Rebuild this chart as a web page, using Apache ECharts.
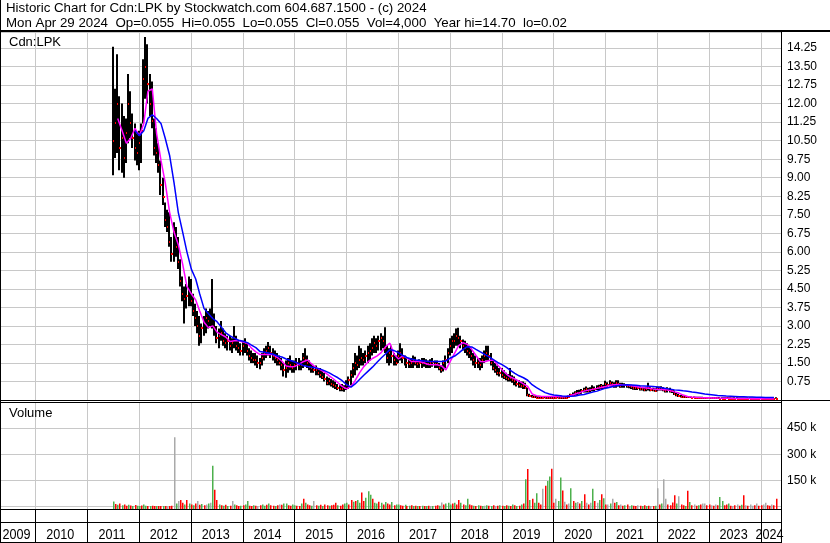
<!DOCTYPE html>
<html>
<head>
<meta charset="utf-8">
<script src="https://cdn.jsdelivr.net/npm/echarts/dist/echarts.min.js"></script>
<style>
html,body{margin:0;padding:0;background:#fff;overflow:hidden}
#chart{width:830px;height:543px}
</style>
</head>
<body>
<div id="chart"></div>
<script>
// ---------------- data ----------------
const titleLine1 = 'Historic Chart for Cdn:LPK by Stockwatch.com 604.687.1500 - (c) 2024';
const titleLine2 = 'Mon Apr 29 2024  Op=0.055  Hi=0.055  Lo=0.055  Cl=0.055  Vol=4,000  Year hi=14.70  lo=0.02';
const symbolLabel = 'Cdn:LPK';
const volumeLabel = 'Volume';
const years = ['2009','2010','2011','2012','2013','2014','2015','2016','2017','2018','2019','2020','2021','2022','2023','2024'];
const axisStart = [2009, 4, 23];
const axisEnd = [2024, 5, 21];
const firstBarMonth = [2011, 7];     // half-month bars: 1st and 16th of each month
const firstShortMAMonth = [2011, 8];
const firstLongMAMonth = [2011, 12];
const priceMin = 0, priceMax = 14.9, priceStep = 0.75;
const volMin = 0, volMax = 600, volStep = 150;   // thousands

// [low, high, close]
const priceBars = [
// 2011 Jul-Dec
[9.1,14.3,10.5],[9.8,12.6,11.2],[10.0,14.0,12.0],[9.3,12.3,10.2],[9.2,12.0,10.6],[9.0,11.5,9.8],
[9.6,11.4,10.8],[10.4,13.2,12.0],[10.6,12.5,11.2],[10.2,11.6,10.6],[9.7,11.2,10.2],[9.5,10.8,10.0],
// 2012
[9.3,10.9,10.4],[9.6,11.2,10.9],[11.2,13.8,13.0],[12.2,14.7,13.5],[12.0,14.4,12.8],[11.5,13.2,12.0],
[11.0,12.9,11.3],[9.9,11.4,10.2],[9.6,11.0,10.0],[9.2,10.4,9.5],[8.3,9.7,8.7],[7.9,9.0,8.2],
[7.0,8.0,7.3],[6.8,7.7,7.0],[6.2,7.6,6.4],[5.6,6.6,5.9],[5.6,7.2,6.8],[5.8,7.0,6.2],
[5.3,6.6,5.6],[4.6,5.7,4.8],[4.0,5.0,4.3],[3.1,4.6,4.1],[3.7,4.7,4.2],[3.8,5.0,4.4],
// 2013
[3.8,4.9,4.0],[3.4,4.3,3.6],[3.0,3.9,3.3],[2.7,3.6,3.0],[2.2,3.4,2.6],[2.3,3.1,2.9],
[2.6,3.4,3.1],[2.7,3.7,3.3],[2.9,3.6,3.2],[3.0,3.7,3.4],[2.9,4.9,3.3],[2.6,3.5,2.9],
[2.3,3.0,2.5],[2.1,2.9,2.6],[2.4,3.2,2.7],[2.2,2.9,2.4],[2.1,2.7,2.3],[2.0,2.6,2.4],
[2.0,2.6,2.2],[1.9,2.5,2.3],[2.1,3.0,2.5],[2.0,2.6,2.2],[1.9,2.4,2.1],[1.8,2.3,2.0],
// 2014
[1.8,2.4,2.2],[1.9,2.5,2.3],[1.8,2.3,2.0],[1.6,2.1,1.8],[1.5,2.0,1.7],[1.5,1.9,1.6],
[1.4,1.9,1.6],[1.3,1.8,1.5],[1.25,1.7,1.5],[1.4,1.9,1.7],[1.6,2.1,1.9],[1.7,2.2,2.0],
[1.8,2.35,2.1],[1.7,2.2,1.9],[1.6,2.1,1.8],[1.5,2.0,1.7],[1.4,1.9,1.6],[1.4,1.8,1.5],
[1.2,1.7,1.4],[0.95,1.5,1.2],[0.9,1.6,1.3],[1.1,1.7,1.5],[1.2,1.8,1.4],[1.1,1.6,1.3],
// 2015
[1.1,1.6,1.4],[1.2,1.7,1.5],[1.2,1.7,1.4],[1.2,1.6,1.4],[1.3,1.9,1.7],[1.4,2.1,1.6],
[1.3,1.8,1.5],[1.2,1.6,1.35],[1.1,1.5,1.3],[1.1,1.4,1.2],[1.0,1.4,1.2],[1.0,1.3,1.1],
[0.9,1.3,1.0],[0.85,1.2,0.95],[0.75,1.1,0.85],[0.6,0.95,0.7],[0.6,0.9,0.75],[0.55,0.85,0.65],
[0.5,0.8,0.6],[0.45,0.75,0.55],[0.4,0.65,0.5],[0.35,0.6,0.45],[0.35,0.65,0.45],[0.33,0.6,0.5],
// 2016
[0.4,0.8,0.6],[0.45,0.95,0.8],[0.6,1.2,1.0],[0.9,1.5,1.3],[1.0,1.9,1.5],[1.2,1.8,1.4],
[1.3,2.2,1.6],[1.4,2.1,1.7],[1.4,1.9,1.6],[1.5,2.0,1.8],[1.5,2.2,1.9],[1.6,2.3,2.0],
[1.8,2.5,2.1],[1.9,2.6,2.3],[1.9,2.5,2.2],[2.0,2.6,2.4],[2.0,2.7,2.5],[2.1,2.6,2.4],
[1.9,2.95,2.1],[1.5,2.2,1.7],[1.4,2.1,1.9],[1.5,2.2,1.8],[1.4,1.9,1.6],[1.4,1.8,1.5],
// 2017
[1.5,2.0,1.8],[1.6,2.3,1.9],[1.5,2.1,1.7],[1.4,1.8,1.55],[1.3,1.75,1.5],[1.3,1.7,1.45],
[1.3,1.7,1.5],[1.3,1.8,1.6],[1.4,1.75,1.5],[1.3,1.6,1.45],[1.3,1.65,1.5],[1.3,1.7,1.5],
[1.35,1.7,1.55],[1.3,1.65,1.45],[1.3,1.6,1.45],[1.3,1.65,1.5],[1.35,1.7,1.55],[1.3,1.6,1.45],
[1.3,1.6,1.45],[1.2,1.5,1.3],[1.1,1.4,1.2],[1.15,1.6,1.5],[1.3,1.8,1.6],[1.5,2.1,1.9],
// 2018
[1.8,2.5,2.2],[1.9,2.6,2.4],[2.1,2.7,2.4],[2.2,2.9,2.6],[2.2,2.93,2.5],[2.1,2.6,2.4],
[2.0,2.45,2.2],[1.9,2.4,2.1],[1.8,2.3,2.0],[1.7,2.2,1.9],[1.6,2.1,1.8],[1.4,1.9,1.6],
[1.3,1.8,1.5],[1.3,1.7,1.5],[1.2,1.7,1.4],[1.3,1.8,1.6],[1.5,2.0,1.8],[1.6,2.2,1.9],
[1.6,2.2,1.8],[1.4,1.9,1.5],[1.2,1.6,1.3],[1.1,1.5,1.2],[1.0,1.4,1.1],[0.95,1.3,1.1],
// 2019
[0.9,1.3,1.0],[0.85,1.2,0.95],[0.8,1.1,0.9],[0.75,1.05,0.85],[0.75,1.3,0.9],[0.7,1.0,0.8],
[0.6,0.95,0.75],[0.55,0.85,0.65],[0.5,0.8,0.6],[0.5,0.75,0.55],[0.45,0.75,0.55],[0.45,0.7,0.5],
[0.15,0.5,0.2],[0.12,0.25,0.15],[0.1,0.2,0.14],[0.09,0.18,0.12],[0.08,0.16,0.1],[0.08,0.15,0.1],
[0.07,0.14,0.09],[0.07,0.13,0.09],[0.07,0.13,0.09],[0.06,0.12,0.08],[0.06,0.12,0.08],[0.06,0.11,0.08],
// 2020
[0.06,0.12,0.09],[0.07,0.14,0.1],[0.07,0.14,0.09],[0.06,0.12,0.08],[0.05,0.1,0.07],[0.05,0.1,0.07],
[0.06,0.14,0.1],[0.08,0.18,0.14],[0.12,0.25,0.2],[0.15,0.3,0.22],[0.18,0.35,0.28],[0.2,0.4,0.3],
[0.22,0.42,0.3],[0.25,0.45,0.35],[0.3,0.5,0.4],[0.3,0.55,0.45],[0.3,0.5,0.38],[0.3,0.52,0.42],
[0.35,0.6,0.45],[0.35,0.55,0.45],[0.4,0.6,0.5],[0.4,0.62,0.52],[0.45,0.65,0.55],[0.45,0.62,0.52],
// 2021
[0.5,0.78,0.65],[0.5,0.72,0.6],[0.55,0.8,0.7],[0.55,0.75,0.65],[0.5,0.72,0.6],[0.5,0.8,0.7],
[0.55,0.8,0.65],[0.5,0.7,0.58],[0.5,0.7,0.6],[0.5,0.68,0.6],[0.5,0.65,0.58],[0.48,0.62,0.55],
[0.45,0.62,0.52],[0.42,0.6,0.5],[0.4,0.58,0.48],[0.4,0.55,0.47],[0.38,0.55,0.45],[0.38,0.52,0.44],
[0.35,0.5,0.42],[0.35,0.52,0.45],[0.38,0.7,0.48],[0.35,0.52,0.42],[0.35,0.5,0.4],[0.33,0.48,0.38],
// 2022
[0.35,0.55,0.45],[0.38,0.55,0.48],[0.38,0.56,0.45],[0.35,0.52,0.42],[0.3,0.48,0.38],[0.3,0.52,0.4],
[0.3,0.5,0.38],[0.28,0.45,0.35],[0.2,0.38,0.25],[0.15,0.3,0.2],[0.12,0.25,0.16],[0.1,0.2,0.14],
[0.1,0.18,0.12],[0.09,0.16,0.12],[0.09,0.15,0.11],[0.09,0.14,0.11],[0.08,0.13,0.1],[0.08,0.12,0.1],
[0.07,0.12,0.09],[0.07,0.11,0.09],[0.07,0.11,0.08],[0.07,0.1,0.08],[0.06,0.1,0.08],[0.06,0.1,0.08],
// 2023
[0.06,0.1,0.08],[0.06,0.09,0.07],[0.06,0.09,0.07],[0.05,0.09,0.07],[0.05,0.09,0.07],[0.05,0.08,0.06],
[0.05,0.08,0.06],[0.05,0.08,0.06],[0.05,0.08,0.065],[0.05,0.08,0.06],[0.05,0.08,0.06],[0.045,0.075,0.06],
[0.05,0.08,0.06],[0.05,0.075,0.06],[0.045,0.07,0.055],[0.045,0.07,0.055],[0.04,0.07,0.05],[0.045,0.07,0.055],
[0.04,0.065,0.05],[0.04,0.065,0.05],[0.04,0.065,0.05],[0.04,0.06,0.05],[0.04,0.06,0.05],[0.04,0.065,0.05],
// 2024 Jan-Apr
[0.04,0.065,0.055],[0.045,0.07,0.055],[0.045,0.07,0.055],[0.045,0.065,0.055],
[0.045,0.065,0.055],[0.045,0.065,0.055],[0.05,0.065,0.055],[0.05,0.06,0.055]
];

// [volume in thousands, direction g=up r=down n=unchanged]
const volumes = [
// 2011 Jul-Dec
[28,'g'],[14,'r'],[10,'g'],[17,'r'],[7,'g'],[12,'r'],[4,'r'],[10,'g'],[6,'r'],[3,'g'],[8,'r'],[4,'g'],
// 2012
[3,'g'],[6,'r'],[12,'g'],[4,'g'],[3,'r'],[3,'g'],[4,'r'],[3,'r'],[3,'g'],[3,'r'],[3,'r'],[3,'g'],
[3,'r'],[3,'n'],[3,'r'],[5,'r'],[397,'n'],[17,'g'],[32,'n'],[38,'r'],[22,'r'],[12,'g'],[37,'r'],[17,'g'],
// 2013
[12,'r'],[7,'g'],[17,'r'],[32,'n'],[10,'r'],[14,'g'],[7,'r'],[12,'n'],[17,'g'],[22,'n'],[234,'g'],[96,'r'],
[38,'r'],[12,'g'],[7,'r'],[4,'g'],[10,'r'],[3,'g'],[4,'r'],[32,'n'],[12,'g'],[7,'r'],[3,'r'],[4,'g'],
// 2014
[7,'r'],[12,'g'],[32,'g'],[4,'r'],[3,'r'],[7,'g'],[4,'r'],[3,'n'],[7,'r'],[12,'g'],[4,'g'],[10,'r'],
[17,'g'],[7,'r'],[4,'r'],[3,'g'],[7,'r'],[12,'n'],[10,'r'],[17,'g'],[17,'g'],[7,'r'],[4,'r'],[12,'g'],
// 2015
[7,'g'],[4,'r'],[3,'r'],[17,'g'],[44,'r'],[22,'g'],[12,'r'],[7,'r'],[4,'g'],[32,'n'],[7,'r'],[4,'g'],
[10,'r'],[3,'g'],[12,'r'],[7,'r'],[4,'g'],[7,'r'],[10,'r'],[21,'r'],[7,'g'],[4,'r'],[12,'r'],[17,'g'],
// 2016
[22,'g'],[12,'r'],[38,'r'],[27,'g'],[32,'r'],[37,'g'],[22,'g'],[80,'r'],[32,'r'],[50,'g'],[88,'g'],[67,'g'],
[44,'r'],[22,'g'],[17,'g'],[27,'r'],[22,'g'],[12,'r'],[26,'g'],[17,'r'],[12,'r'],[26,'g'],[7,'r'],[12,'g'],
// 2017
[12,'g'],[7,'r'],[4,'r'],[10,'g'],[3,'r'],[4,'g'],[7,'r'],[3,'g'],[4,'r'],[3,'g'],[3,'r'],[4,'g'],
[3,'r'],[3,'g'],[4,'r'],[3,'n'],[3,'g'],[4,'r'],[7,'r'],[4,'g'],[23,'n'],[12,'r'],[17,'g'],[22,'g'],
// 2018
[12,'g'],[17,'r'],[22,'g'],[12,'r'],[38,'r'],[22,'g'],[12,'r'],[7,'g'],[44,'g'],[12,'r'],[7,'r'],[4,'g'],
[3,'r'],[7,'g'],[4,'r'],[3,'g'],[5,'n'],[7,'g'],[4,'r'],[3,'g'],[7,'r'],[3,'n'],[4,'r'],[7,'g'],
// 2019
[4,'r'],[3,'g'],[7,'r'],[4,'g'],[3,'r'],[12,'g'],[7,'r'],[3,'g'],[4,'r'],[12,'g'],[17,'r'],[157,'g'],
[215,'r'],[38,'g'],[44,'r'],[22,'g'],[76,'g'],[22,'r'],[12,'r'],[102,'n'],[119,'r'],[147,'g'],[172,'g'],[217,'r'],
// 2020
[22,'r'],[44,'n'],[32,'g'],[167,'g'],[92,'r'],[27,'n'],[12,'r'],[17,'n'],[105,'g'],[32,'r'],[22,'g'],[26,'n'],
[17,'r'],[32,'g'],[70,'r'],[22,'n'],[12,'r'],[22,'n'],[102,'g'],[32,'r'],[22,'n'],[37,'g'],[70,'r'],[47,'g'],
// 2021
[12,'r'],[12,'n'],[17,'g'],[44,'n'],[22,'r'],[26,'g'],[7,'r'],[12,'n'],[4,'r'],[7,'g'],[12,'r'],[3,'n'],
[7,'g'],[4,'r'],[3,'r'],[7,'n'],[4,'r'],[3,'g'],[7,'r'],[3,'g'],[4,'r'],[3,'n'],[3,'r'],[4,'g'],
// 2022
[105,'n'],[12,'r'],[17,'g'],[157,'n'],[44,'n'],[12,'r'],[7,'r'],[23,'r'],[64,'r'],[17,'g'],[59,'n'],[12,'r'],
[7,'r'],[3,'g'],[90,'r'],[26,'g'],[7,'r'],[12,'n'],[4,'r'],[7,'g'],[12,'r'],[17,'n'],[17,'n'],[7,'r'],
// 2023
[12,'r'],[7,'n'],[4,'r'],[12,'n'],[7,'r'],[55,'g'],[32,'g'],[7,'r'],[12,'r'],[17,'g'],[4,'r'],[3,'n'],
[7,'r'],[12,'n'],[4,'r'],[10,'g'],[64,'r'],[7,'n'],[4,'r'],[12,'n'],[5,'n'],[7,'r'],[17,'n'],[4,'r'],
// 2024 Jan-Apr
[7,'r'],[12,'n'],[22,'n'],[7,'r'],[4,'r'],[12,'n'],[7,'r'],[44,'r']
];

// monthly values of the short (magenta) moving average, from 2011-08
const maShort = [
11.4,10.9,10.4,10.6,11.0,
10.7,11.2,12.5,12.6,10.8,9.7,8.8,7.6,6.8,6.3,5.5,4.6,
4.3,4.05,3.6,3.15,2.93,3.0,2.75,2.65,2.55,2.37,2.4,2.4,
2.35,2.3,2.1,1.95,1.84,1.84,1.85,1.84,1.72,1.58,1.38,1.35,
1.36,1.45,1.55,1.62,1.45,1.3,1.22,1.12,0.98,0.85,0.7,0.55,
0.45,0.55,0.78,1.1,1.35,1.55,1.68,1.78,1.92,2.15,2.3,1.85,
1.66,1.8,1.7,1.56,1.56,1.56,1.5,1.44,1.43,1.43,1.38,1.22,
1.56,1.9,2.2,2.32,2.25,2.05,1.8,1.56,1.55,1.6,1.62,1.42,
1.22,1.05,0.93,0.85,0.76,0.65,0.55,0.25,0.17,0.15,0.14,0.14,
0.14,0.14,0.13,0.14,0.18,0.24,0.3,0.36,0.4,0.43,0.47,0.51,
0.55,0.6,0.62,0.63,0.62,0.6,0.58,0.55,0.52,0.5,0.48,0.45,
0.43,0.43,0.42,0.38,0.33,0.28,0.2,0.14,0.12,0.11,0.1,0.095,
0.09,0.085,0.08,0.075,0.07,0.07,0.065,0.065,0.06,0.06,0.055,0.055,
0.055,0.055,0.055,0.055
];

// monthly values of the long (blue) moving average, from 2011-12
const maLong = [
10.9,
10.7,10.9,11.4,11.55,11.4,11.2,10.6,9.9,8.8,7.6,6.8,6.0,
5.3,4.9,4.3,3.7,3.5,3.3,3.17,2.95,2.72,2.6,2.5,2.42,
2.38,2.32,2.22,2.12,1.96,1.93,1.9,1.85,1.78,1.74,1.66,1.6,
1.54,1.47,1.4,1.36,1.33,1.3,1.25,1.18,1.1,1.0,0.9,0.78,
0.62,0.52,0.65,0.83,1.0,1.17,1.33,1.52,1.7,1.86,2.04,2.0,
1.92,1.8,1.72,1.66,1.62,1.6,1.58,1.56,1.56,1.56,1.56,1.58,
1.7,1.78,1.9,2.05,2.16,2.15,2.05,1.95,1.85,1.75,1.63,1.52,
1.43,1.32,1.2,1.08,0.98,0.9,0.8,0.62,0.5,0.4,0.3,0.24,
0.2,0.18,0.16,0.15,0.15,0.16,0.2,0.22,0.27,0.32,0.36,0.42,
0.48,0.52,0.56,0.59,0.61,0.62,0.61,0.6,0.58,0.57,0.56,0.55,
0.53,0.5,0.47,0.44,0.41,0.39,0.37,0.35,0.32,0.3,0.27,0.24,
0.22,0.2,0.18,0.17,0.16,0.15,0.14,0.13,0.13,0.12,0.12,0.11,
0.11,0.1,0.1,0.1
];

// ---------------- build ----------------
const FONT = '"Liberation Sans", Arial, sans-serif';
const utc = (y, m, d) => Date.UTC(y, m - 1, d);
const tMin = utc(axisStart[0], axisStart[1], axisStart[2]);
const tMax = utc(axisEnd[0], axisEnd[1], axisEnd[2]);
const barTime = i => utc(firstBarMonth[0], firstBarMonth[1] + Math.floor(i / 2), i % 2 ? 16 : 1);
const monthTime = (start, i) => utc(start[0], start[1] + i, 1);

const priceData = priceBars.map((b, i) => [barTime(i), b[0], b[1], b[2]]);
const volData = volumes.map((v, i) => [barTime(i), v[0]]);
const shortData = maShort.map((v, i) => [monthTime(firstShortMAMonth, i), v]);
const longData = maLong.map((v, i) => [monthTime(firstLongMAMonth, i), v]);
const yearStarts = years.slice(1).map(y => [utc(+y, 1, 1), 0]);
const yearBoxes = years.map(y => [Math.max(utc(+y, 1, 1), tMin), Math.min(utc(+y + 1, 1, 1), tMax)]);
const volColors = { g: '#4cb04c', r: '#ff0000', n: '#a9a9a9' };

function gridLineRenderer(color, extraBottom) {
  return function (params, api) {
    const cs = params.coordSys;
    const x = Math.floor(api.coord([api.value(0), 0])[0]) + 0.5;
    return { type: 'line', shape: { x1: x, y1: cs.y, x2: x, y2: cs.y + cs.height + extraBottom },
      style: { stroke: color, lineWidth: 1 } };
  };
}
function renderPriceBar(params, api) {
  const t = api.value(0);
  const pLo = api.coord([t, api.value(1)]);
  const pHi = api.coord([t, api.value(2)]);
  const pCl = api.coord([t, api.value(3)]);
  const x = Math.floor(pLo[0]);
  const top = Math.min(pHi[1], pLo[1] - 1.5);
  return { type: 'group', children: [
    { type: 'rect', shape: { x: x - 1, y: top, width: 2, height: pLo[1] - top }, style: { fill: '#000' } },
    { type: 'rect', shape: { x: x, y: Math.round(pCl[1]) - 1, width: 2, height: 2 }, style: { fill: '#ff0000' } }
  ] };
}
const volBaseGap = 2.5;
function renderVolume(params, api) {
  const cs = params.coordSys;
  const p = api.coord([api.value(0), api.value(1)]);
  const x = Math.floor(p[0]);
  const bottom = cs.y + cs.height + volBaseGap;
  return { type: 'rect', shape: { x: x, y: p[1], width: 1.5, height: bottom - p[1] },
    style: { fill: volColors[volumes[params.dataIndex][1]] } };
}
function renderYearLabel(params, api) {
  const cs = params.coordSys;
  const a = api.coord([api.value(0), 0])[0];
  const b = api.coord([api.value(1), 0])[0];
  return { type: 'text', x: (a + b) / 2 - 1.5, y: cs.y + 25.5, scaleX: 0.84,
    style: { text: years[params.dataIndex], fill: '#000', fontSize: 15, fontFamily: FONT,
      align: 'center', verticalAlign: 'middle', textAlign: 'center', textVerticalAlign: 'middle' } };
}

const hiddenX = gi => ({ gridIndex: gi, type: 'time', min: tMin, max: tMax, show: false });
const blk = (x, y, w, h) => ({ type: 'rect', z: 50, silent: true, shape: { x, y, width: w, height: h }, style: { fill: '#000' } });
const txt = (x, y, s, size) => ({ type: 'text', z: 50, silent: true, x, y,
  style: { text: s, fill: '#000', font: size + 'px ' + FONT, textAlign: 'left', textVerticalAlign: 'middle', align: 'left', verticalAlign: 'middle' } });

const chart = echarts.init(document.getElementById('chart'), null, { renderer: 'canvas' });
chart.setOption({
  animation: false,
  backgroundColor: '#fff',
  grid: [
    { left: 0, top: 32, width: 781, height: 368, containLabel: false, outerBoundsMode: 'none' },
    { left: 0, top: 402, width: 781, height: 104.5, containLabel: false, outerBoundsMode: 'none' },
    { left: 0, top: 509, width: 781, height: 34, containLabel: false, outerBoundsMode: 'none' }
  ],
  xAxis: [hiddenX(0), hiddenX(1), hiddenX(2)],
  yAxis: [
    { gridIndex: 0, type: 'value', position: 'right', min: priceMin, max: priceMax, interval: priceStep,
      axisLine: { show: false }, axisTick: { show: false },
      axisLabel: { margin: 6, color: '#000', fontSize: 12, fontFamily: FONT, showMinLabel: false, showMaxLabel: false,
        formatter: v => v.toFixed(2) },
      splitLine: { show: true, lineStyle: { color: '#c8c8c8', width: 1 } } },
    { gridIndex: 1, type: 'value', position: 'right', min: volMin, max: volMax, interval: volStep,
      axisLine: { show: false }, axisTick: { show: false },
      axisLabel: { margin: 6, color: '#000', fontSize: 12, fontFamily: FONT, showMinLabel: false, showMaxLabel: false,
        formatter: v => v + ' k' },
      splitLine: { show: true, lineStyle: { color: '#c8c8c8', width: 1 } } },
    { gridIndex: 2, type: 'value', min: 0, max: 1, show: false }
  ],
  series: [
    { type: 'custom', xAxisIndex: 0, yAxisIndex: 0, z: 1, silent: true, renderItem: gridLineRenderer('#c8c8c8', 0), data: yearStarts },
    { type: 'custom', xAxisIndex: 1, yAxisIndex: 1, z: 1, silent: true, renderItem: gridLineRenderer('#c8c8c8', volBaseGap), data: yearStarts },
    { type: 'custom', xAxisIndex: 2, yAxisIndex: 2, z: 1, silent: true, renderItem: gridLineRenderer('#000', 0), data: yearStarts },
    { type: 'custom', name: 'Cdn:LPK', xAxisIndex: 0, yAxisIndex: 0, z: 2, silent: true, clip: true,
      renderItem: renderPriceBar, encode: { x: 0, y: [1, 2, 3] }, data: priceData },
    { type: 'line', name: 'short MA', xAxisIndex: 0, yAxisIndex: 0, z: 3, silent: true, symbol: 'none',
      lineStyle: { color: '#ff00ff', width: 1.5 }, data: shortData },
    { type: 'line', name: 'long MA', xAxisIndex: 0, yAxisIndex: 0, z: 4, silent: true, symbol: 'none',
      lineStyle: { color: '#0000ff', width: 1.5 }, data: longData },
    { type: 'custom', name: 'Volume', xAxisIndex: 1, yAxisIndex: 1, z: 2, silent: true, clip: false,
      renderItem: renderVolume, encode: { x: 0, y: 1 }, data: volData },
    { type: 'custom', xAxisIndex: 2, yAxisIndex: 2, z: 3, silent: true, clip: false,
      renderItem: renderYearLabel, encode: { x: [0, 1] }, data: yearBoxes }
  ],
  graphic: [
    txt(6, 8, titleLine1, 13.3),
    txt(6, 23, titleLine2, 13.3),
    txt(9, 42, symbolLabel, 13),
    txt(9, 413, volumeLabel, 13),
    blk(0, 30, 830, 2),
    blk(0, 0, 1, 543),
    blk(781, 30, 1, 513),
    blk(0, 400, 830, 1),
    blk(0, 402, 782, 1),
    blk(0, 509, 782, 1),
    blk(0, 522, 782, 1),
    blk(0, 542, 782, 1)
  ]
});
</script>
</body>
</html>
